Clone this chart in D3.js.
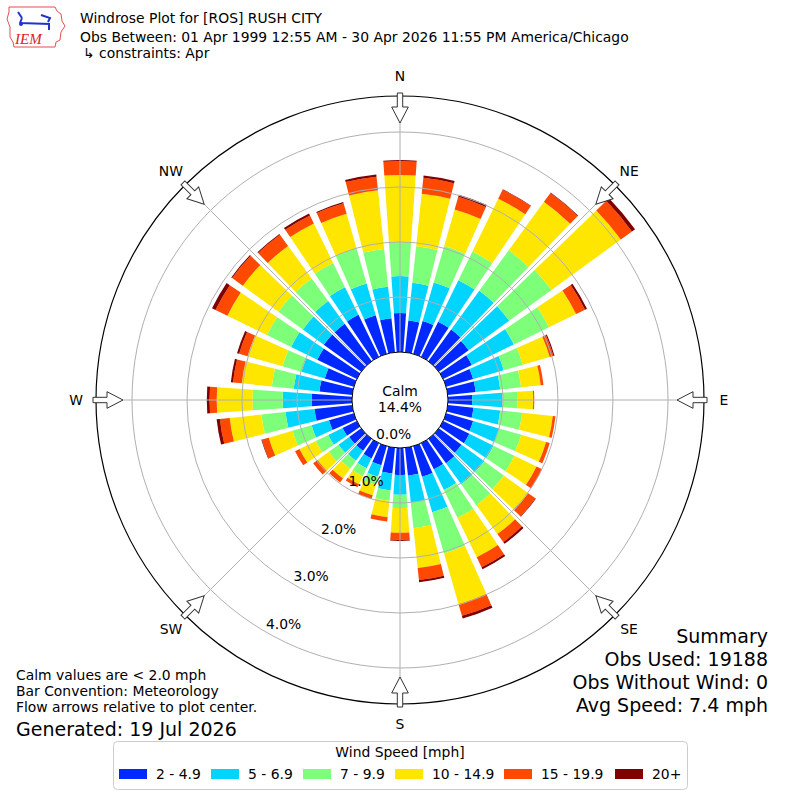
<!DOCTYPE html>
<html>
<head>
<meta charset="utf-8">
<script src="https://cdn.jsdelivr.net/npm/d3@7"></script>
<style>
  body { margin: 0; background: #fff; }
  svg { display: block; }
</style>
</head>
<body>
<div id="chart"></div>
<script>
// Wind direction sectors (degrees, meteorological)
var directions = [0, 10, 20, 30, 40, 50, 60, 70, 80, 90, 100, 110, 120, 130, 140, 150, 160, 170,
                  180, 190, 200, 210, 220, 230, 240, 250, 260, 270, 280, 290, 300, 310, 320, 330, 340, 350];

// speed bins and their colours
var speedBins = ["2 - 4.9", "5 - 6.9", "7 - 9.9", "10 - 14.9", "15 - 19.9", "20+"];
var binColors = ["#0028ff", "#00d4ff", "#7dff7a", "#ffe600", "#ff4800", "#800000"];

// percent of observations per direction, one array per speed bin
var pct2to5 = [0.71, 0.58, 0.62, 0.71, 0.71, 0.67, 0.58, 0.51, 0.51, 0.44, 0.47, 0.51, 0.53, 0.51, 0.55, 0.53, 0.58, 0.51,
               0.49, 0.47, 0.36, 0.31, 0.27, 0.27, 0.29, 0.47, 0.69, 0.73, 0.60, 0.55, 0.80, 0.84, 0.84, 0.85, 0.73, 0.62];
var pct5to7 = [0.67, 0.69, 0.73, 0.84, 0.87, 0.91, 0.85, 0.58, 0.45, 0.55, 0.49, 0.49, 0.49, 0.51, 0.47, 0.42, 0.67, 0.49,
               0.36, 0.31, 0.22, 0.20, 0.22, 0.24, 0.29, 0.33, 0.53, 0.53, 0.47, 0.44, 0.53, 0.47, 0.51, 0.56, 0.60, 0.58];
var pct7to10 = [0.62, 0.67, 0.69, 0.58, 0.91, 0.95, 0.71, 0.36, 0.38, 0.27, 0.40, 0.42, 0.42, 0.44, 0.47, 0.56, 0.78, 0.47,
                0.24, 0.19, 0.15, 0.16, 0.18, 0.22, 0.25, 0.36, 0.44, 0.55, 0.40, 0.36, 0.49, 0.55, 0.51, 0.49, 0.67, 0.69];
var pct10to15 = [1.22, 0.96, 0.69, 1.07, 1.09, 1.56, 0.55, 0.51, 0.36, 0.29, 0.56, 0.47, 0.45, 0.55, 0.65, 0.80, 0.96, 0.73,
                 0.45, 0.30, 0.20, 0.16, 0.22, 0.25, 0.33, 0.45, 0.58, 0.65, 0.55, 0.66, 0.80, 0.80, 0.73, 0.80, 0.65, 1.07];
var pct15to20 = [0.25, 0.29, 0.24, 0.18, 0.20, 0.25, 0.18, 0.07, 0.05, 0.02, 0.05, 0.07, 0.11, 0.16, 0.18, 0.20, 0.22, 0.22,
                 0.13, 0.08, 0.07, 0.06, 0.09, 0.10, 0.09, 0.13, 0.18, 0.13, 0.16, 0.16, 0.24, 0.24, 0.25, 0.16, 0.20, 0.25];
var pct20up = [0.02, 0.04, 0.04, 0.01, 0.01, 0.07, 0.04, 0.02, 0, 0, 0, 0, 0, 0.01, 0.04, 0.04, 0.05, 0.04,
               0.02, 0, 0, 0, 0, 0, 0, 0.01, 0.06, 0.05, 0.04, 0.04, 0.07, 0.02, 0.02, 0.04, 0.02, 0.04];

var calmText = "14.4%";

// radial rings
var ringTicks = [0, 1, 2, 3, 4];
var ringLabels = ["0.0%", "1.0%", "2.0%", "3.0%", "4.0%"];

// compass points
var compassNames = ["N", "NE", "E", "SE", "S", "SW", "W", "NW"];
var compassAngles = [0, 45, 90, 135, 180, 225, 270, 315];

// text blocks
var titleLines = ["Windrose Plot for [ROS] RUSH CITY",
                  "Obs Between: 01 Apr 1999 12:55 AM - 30 Apr 2026 11:55 PM America/Chicago",
                  "\u21b3 constraints: Apr"];
var noteLines = ["Calm values are < 2.0 mph", "Bar Convention: Meteorology", "Flow arrows relative to plot center."];
var generatedText = "Generated: 19 Jul 2026";
var summaryLines = ["Summary", "Obs Used: 19188", "Obs Without Wind: 0", "Avg Speed: 7.4 mph"];

function init(){

  var w = 800;
  var h = 800;
  var cx = 400;
  var cy = 400;
  var rOuter = 304;
  var fs = "13.9px";

  var svg = d3.select("#chart")
              .append("svg")
              .attr("width", w)
              .attr("height", h)
              .style("font-family", "'DejaVu Sans', sans-serif");

  svg.append("rect").attr("width", w).attr("height", h).attr("fill", "#fff");

  // radius scale: 0% sits on the calm circle
  var rScale = d3.scaleLinear().domain([0, 4]).range([48, 268]);
  // bearing (deg) to radians, d3.arc has 0 at north going clockwise
  var toRad = d3.scaleLinear().domain([0, 360]).range([0, 2 * Math.PI]);

  // build rows for stacking
  var binValues = [pct2to5, pct5to7, pct7to10, pct10to15, pct15to20, pct20up];
  var rows = directions.map(function(d, i){
    var row = {dir: d};
    speedBins.forEach(function(k, j){ row[k] = binValues[j][i]; });
    return row;
  });
  var series = d3.stack().keys(speedBins)(rows);

  var plot = svg.append("g")
                .attr("transform", "translate(" + cx + "," + cy + ")");

  var arc = d3.arc();

  // Draw bars
  plot.selectAll("g.layer")
      .data(series)
      .enter()
      .append("g")
      .attr("class", "layer")
      .attr("fill", function(d, i){ return binColors[i]; })
      .selectAll("path")
      .data(function(d){ return d.filter(function(p){ return p[1] > p[0]; }); })
      .enter()
      .append("path")
      .attr("d", function(d){
        return arc({
          innerRadius: rScale(d[0]),
          outerRadius: rScale(d[1]),
          startAngle: toRad(d.data.dir - 4),
          endAngle: toRad(d.data.dir + 4)
        });
      });

  // grid circles on top of bars
  plot.selectAll("circle.grid")
      .data(ringTicks.slice(1))
      .enter()
      .append("circle")
      .attr("class", "grid")
      .attr("r", function(d){ return rScale(d); })
      .attr("fill", "none")
      .attr("stroke", "#b0b0b0")
      .attr("stroke-width", 1);

  // radial lines
  plot.selectAll("line.spoke")
      .data(compassAngles)
      .enter()
      .append("line")
      .attr("class", "spoke")
      .attr("x1", function(d){ return rScale(0) * Math.sin(toRad(d)); })
      .attr("y1", function(d){ return -rScale(0) * Math.cos(toRad(d)); })
      .attr("x2", function(d){ return rOuter * Math.sin(toRad(d)); })
      .attr("y2", function(d){ return -rOuter * Math.cos(toRad(d)); })
      .attr("stroke", "#b0b0b0")
      .attr("stroke-width", 1);

  // calm circle
  plot.append("circle")
      .attr("r", rScale(0))
      .attr("fill", "#fff")
      .attr("stroke", "#000")
      .attr("stroke-width", 1);

  plot.append("text")
      .attr("x", 0).attr("y", -9)
      .attr("text-anchor", "middle")
      .attr("dominant-baseline", "central")
      .style("font-size", fs)
      .text("Calm");
  plot.append("text")
      .attr("x", 0).attr("y", 7)
      .attr("text-anchor", "middle")
      .attr("dominant-baseline", "central")
      .style("font-size", fs)
      .text(calmText);

  // outer frame
  plot.append("circle")
      .attr("r", rOuter)
      .attr("fill", "none")
      .attr("stroke", "#000")
      .attr("stroke-width", 1.2);

  // flow arrows, drawn pointing north then rotated
  var arrowPts = [[-2.7, -307], [2.7, -307], [2.7, -293], [8.3, -293], [0, -277], [-8.3, -293], [-2.7, -293]];
  plot.selectAll("polygon.arrow")
      .data(compassAngles)
      .enter()
      .append("polygon")
      .attr("class", "arrow")
      .attr("points", arrowPts.map(function(p){ return p.join(","); }).join(" "))
      .attr("transform", function(d){ return "rotate(" + d + ")"; })
      .attr("fill", "#fff")
      .attr("stroke", "#333")
      .attr("stroke-width", 1);

  // compass labels
  plot.selectAll("text.compass")
      .data(compassAngles)
      .enter()
      .append("text")
      .attr("class", "compass")
      .attr("x", function(d){ return 324 * Math.sin(toRad(d)); })
      .attr("y", function(d){ return -324 * Math.cos(toRad(d)); })
      .attr("text-anchor", "middle")
      .attr("dominant-baseline", "central")
      .style("font-size", fs)
      .text(function(d, i){ return compassNames[i]; });

  // ring labels along 210 deg
  var labelAngle = toRad(210);
  plot.selectAll("text.ring")
      .data(ringTicks)
      .enter()
      .append("text")
      .attr("class", "ring")
      .attr("x", function(d){ return rScale(d) * Math.sin(labelAngle); })
      .attr("y", function(d){ return -rScale(d) * Math.cos(labelAngle) - 3; })
      .style("font-size", fs)
      .text(function(d, i){ return ringLabels[i]; });

  // Title block
  svg.selectAll("text.title")
     .data(titleLines)
     .enter()
     .append("text")
     .attr("class", "title")
     .attr("x", function(d, i){ return i == 2 ? 83 : 80; })
     .attr("y", function(d, i){ return [23, 42, 58][i]; })
     .style("font-size", fs)
     .text(function(d){ return d; });

  // IEM logo (rough)
  var logo = svg.append("g");
  logo.append("path")
      .attr("d", "M9,7 L55,7 L57,11 L61,14 L62,21 L65,26 L61,32 L60,40 L56,42 L55,47 L14,47 L13,42 L10,37 L10,27 L7,19 L9,12 Z")
      .attr("fill", "none")
      .attr("stroke", "#d22")
      .attr("stroke-width", 0.8);
  logo.append("path")
      .attr("d", "M20,23 L50,24 M18,12 L22,18 M22,18 L20,23 M41,15 L50,18 L48,22 M49,24 L49,30")
      .attr("fill", "none")
      .attr("stroke", "#2233cc")
      .attr("stroke-width", 2);
  logo.append("circle").attr("cx", 21).attr("cy", 24).attr("r", 2).attr("fill", "#2233cc");
  logo.append("text")
      .attr("x", 15).attr("y", 44)
      .style("font-family", "'Liberation Serif', serif")
      .style("font-style", "italic")
      .style("font-size", "15px")
      .attr("fill", "#d22")
      .text("IEM");

  // notes bottom left
  svg.selectAll("text.note")
     .data(noteLines)
     .enter()
     .append("text")
     .attr("class", "note")
     .attr("x", 16)
     .attr("y", function(d, i){ return 680 + i * 16; })
     .style("font-size", fs)
     .text(function(d){ return d; });

  svg.append("text")
     .attr("x", 16).attr("y", 736)
     .style("font-size", "19px")
     .text(generatedText);

  // summary bottom right
  svg.selectAll("text.summary")
     .data(summaryLines)
     .enter()
     .append("text")
     .attr("class", "summary")
     .attr("x", 768)
     .attr("y", function(d, i){ return 643 + i * 23; })
     .attr("text-anchor", "end")
     .style("font-size", "19px")
     .text(function(d){ return d; });

  // Legend
  var legend = svg.append("g");
  legend.append("rect")
        .attr("x", 113.5).attr("y", 741.5)
        .attr("width", 574).attr("height", 48)
        .attr("rx", 4)
        .attr("fill", "#fff")
        .attr("stroke", "#cccccc");
  legend.append("text")
        .attr("x", 400).attr("y", 752)
        .attr("text-anchor", "middle")
        .attr("dominant-baseline", "central")
        .style("font-size", fs)
        .text("Wind Speed [mph]");

  // legend entry slots across the box
  var entryX = [119, 211, 303, 395, 504, 615];
  speedBins.forEach(function(label, i){
    legend.append("rect")
          .attr("x", entryX[i]).attr("y", 769)
          .attr("width", 28).attr("height", 10)
          .attr("fill", binColors[i]);
    legend.append("text")
          .attr("x", entryX[i] + 37).attr("y", 774)
          .attr("dominant-baseline", "central")
          .style("font-size", fs)
          .text(label);
  });
}

window.onload = init;
</script>
</body>
</html>
